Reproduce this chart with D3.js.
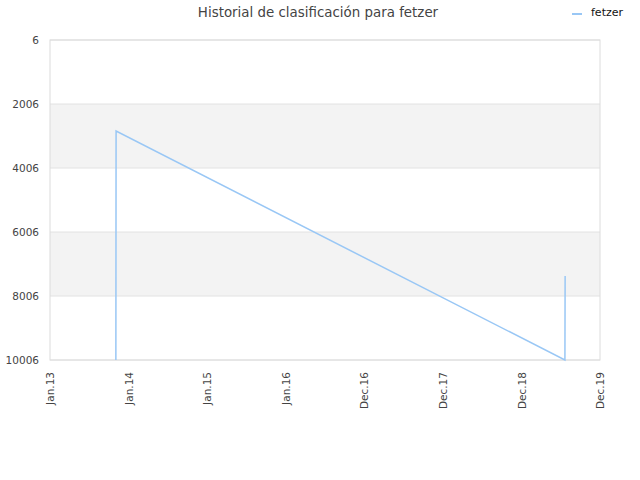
<!DOCTYPE html>
<html>
<head>
<meta charset="utf-8">
<script src="https://cdn.jsdelivr.net/npm/d3@7"></script>
<style>
body { margin: 0; background: #fff; }
text { font-family: "DejaVu Sans", sans-serif; }
</style>
</head>
<body>
<div id="chart"></div>
<script>
// data
const seriesName = "fetzer";
const dates = ["2013-11-03", "2013-11-04", "2019-07-21", "2019-07-22"];
const ranks = [10006, 2850, 10006, 7380];
const yTicks = [6, 2006, 4006, 6006, 8006, 10006];
const xTickLabels = ["Jan.13", "Jan.14", "Jan.15", "Jan.16", "Dec.16", "Dec.17", "Dec.18", "Dec.19"];

const margin = { top: 40, right: 40, bottom: 120, left: 50 };
const width = 640 - margin.left - margin.right;
const height = 480 - margin.top - margin.bottom;

const parse = d3.timeParse("%Y-%m-%d");
const start = parse("2013-01-01");
const xTickDates = xTickLabels.map((d, i) => d3.timeDay.offset(start, i * 365));
const data = dates.map((d, i) => ({ date: parse(d), rank: ranks[i] }));

const svg = d3.select("#chart").append("svg")
  .attr("width", 640).attr("height", 480);

const g = svg.append("g")
  .attr("transform", "translate(" + margin.left + "," + margin.top + ")");

const x = d3.scaleTime()
  .domain([start, xTickDates[xTickDates.length - 1]])
  .range([0, width]);

const y = d3.scaleLinear()
  .domain([6, 10006])
  .range([0, height]);

// alternating bands
for (let i = 0; i < yTicks.length - 1; i++) {
  if (i % 2 === 1) {
    g.append("rect")
      .attr("x", 0).attr("width", width)
      .attr("y", y(yTicks[i])).attr("height", y(yTicks[i + 1]) - y(yTicks[i]))
      .style("fill", "#f3f3f3");
  }
}

// gridlines
g.selectAll(".grid")
  .data(yTicks)
  .enter().append("line")
  .attr("x1", 0).attr("x2", width)
  .attr("y1", d => y(d)).attr("y2", d => y(d))
  .style("stroke", "#e2e2e2");

// frame
g.append("rect")
  .attr("width", width).attr("height", height)
  .style("fill", "none").style("stroke", "#dcdcdc");

// y axis
const yAxis = d3.axisLeft(y).tickValues(yTicks).tickFormat(d3.format("d")).tickSize(0).tickPadding(11);
const ya = g.append("g").call(yAxis);
ya.select(".domain").remove();
ya.selectAll("text").style("font-size", "10.5px").style("fill", "#444");

// x axis
const xAxis = d3.axisBottom(x).tickValues(xTickDates)
  .tickFormat((d, i) => xTickLabels[i]).tickSize(0);
const xa = g.append("g").attr("transform", "translate(0," + height + ")").call(xAxis);
xa.select(".domain").remove();
xa.selectAll("text")
  .style("font-size", "10.5px").style("fill", "#444")
  .attr("transform", "rotate(-90)")
  .attr("text-anchor", "end")
  .attr("x", -12).attr("y", 0).attr("dy", "0.35em");

// line
const line = d3.line().x(d => x(d.date)).y(d => y(d.rank));
g.append("path")
  .datum(data)
  .attr("d", line)
  .style("fill", "none")
  .style("stroke", "#99c7f5")
  .style("stroke-width", 1.5);

// title
svg.append("text")
  .attr("x", 318).attr("y", 17)
  .attr("text-anchor", "middle")
  .style("font-size", "13.4px").style("fill", "#444")
  .text("Historial de clasificación para fetzer");

// legend
svg.append("line")
  .attr("x1", 572).attr("x2", 582).attr("y1", 14).attr("y2", 14)
  .style("stroke", "#99c7f5").style("stroke-width", 2);
svg.append("text")
  .attr("x", 591).attr("y", 16)
  .style("font-size", "11px").style("fill", "#111")
  .text(seriesName);
</script>
</body>
</html>
